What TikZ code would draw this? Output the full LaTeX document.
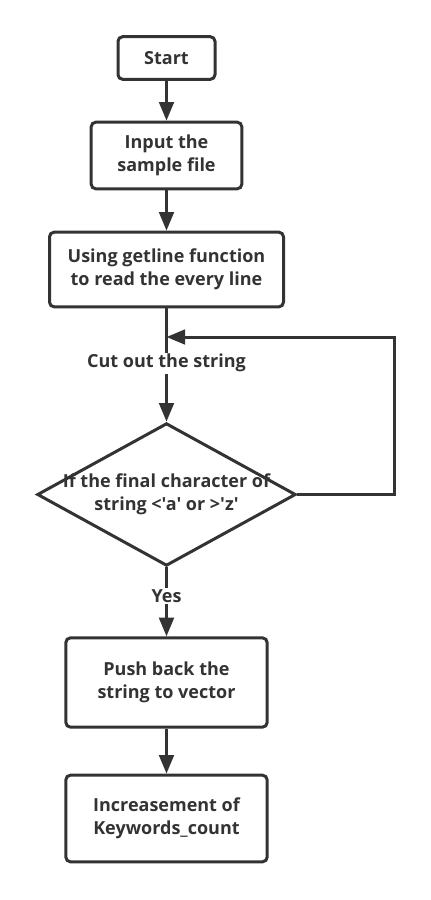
\documentclass[tikz,border=0pt]{standalone}
\usepackage{fontspec}
\setmainfont{Open Sans}[Ligatures=TeXOff]
\usepackage{tikz}
\usetikzlibrary{shapes.geometric, arrows.meta, positioning, calc}
\definecolor{flowgray}{RGB}{51, 51, 51}

\tikzset{
    procbox/.style={draw=flowgray, line width=2.25pt, rounded corners=3.5pt, align=center,
        text=flowgray, font=\bfseries\fontsize{13.5}{17}\selectfont, inner sep=0pt},
    decbox/.style={draw=flowgray, line width=2.25pt, diamond, inner sep=0pt,
        minimum width=194pt, minimum height=107pt},
    flowarrow/.style={draw=flowgray, line width=2.25pt, -{Triangle[length=14pt, width=11pt]}},
    flowline/.style={draw=flowgray, line width=2.25pt},
    edgetext/.style={fill=white, text=flowgray, font=\bfseries\fontsize{13.5}{17}\selectfont, inner sep=1pt}
}

\begin{document}
\begin{tikzpicture}[x=0.75pt, y=-0.75pt]
        \useasboundingbox (0,0) rectangle (430,900);
        
        \node[procbox, minimum width=72.75pt, minimum height=32pt] (start) at (166.5,58) {Start};
        \node[procbox, minimum width=113pt, minimum height=50pt] (input) at (166.5,155.5) {Input the\\sample file};
        \node[procbox, minimum width=175.5pt, minimum height=56pt] (getline) at (166.5,269.5) {Using getline function\\to read the every line};
        \node[decbox, label={[align=center, text=flowgray, font=\bfseries\fontsize{13.5}{17}\selectfont]center:If the final character of\\string <'a' or >'z'}] (check) at (166.5,494.5) {};
        \node[procbox, minimum width=151pt, minimum height=67pt] (push) at (166.5,682.5) {Push back the\\string to vector};
        \node[procbox, minimum width=151pt, minimum height=65pt] (count) at (166.5,818.5) {Increasement of\\Keywords\_count};
        
        \coordinate (merge) at (166.5,337);
        
        \draw[flowarrow] (start) -- (input);
        \draw[flowarrow] (input) -- (getline);
        \draw[flowline] (getline) -- (merge);
        \draw[flowarrow] (merge) -- node[edgetext, pos=0.31] {Cut out the string} (check);
        \draw[flowarrow] (check.east) -- ++(97,0) |- (merge);
        \draw[flowarrow] (check) -- node[edgetext, pos=0.42] {Yes} (push);
        \draw[flowarrow] (push) -- (count);
    \end{tikzpicture}
\end{document}
